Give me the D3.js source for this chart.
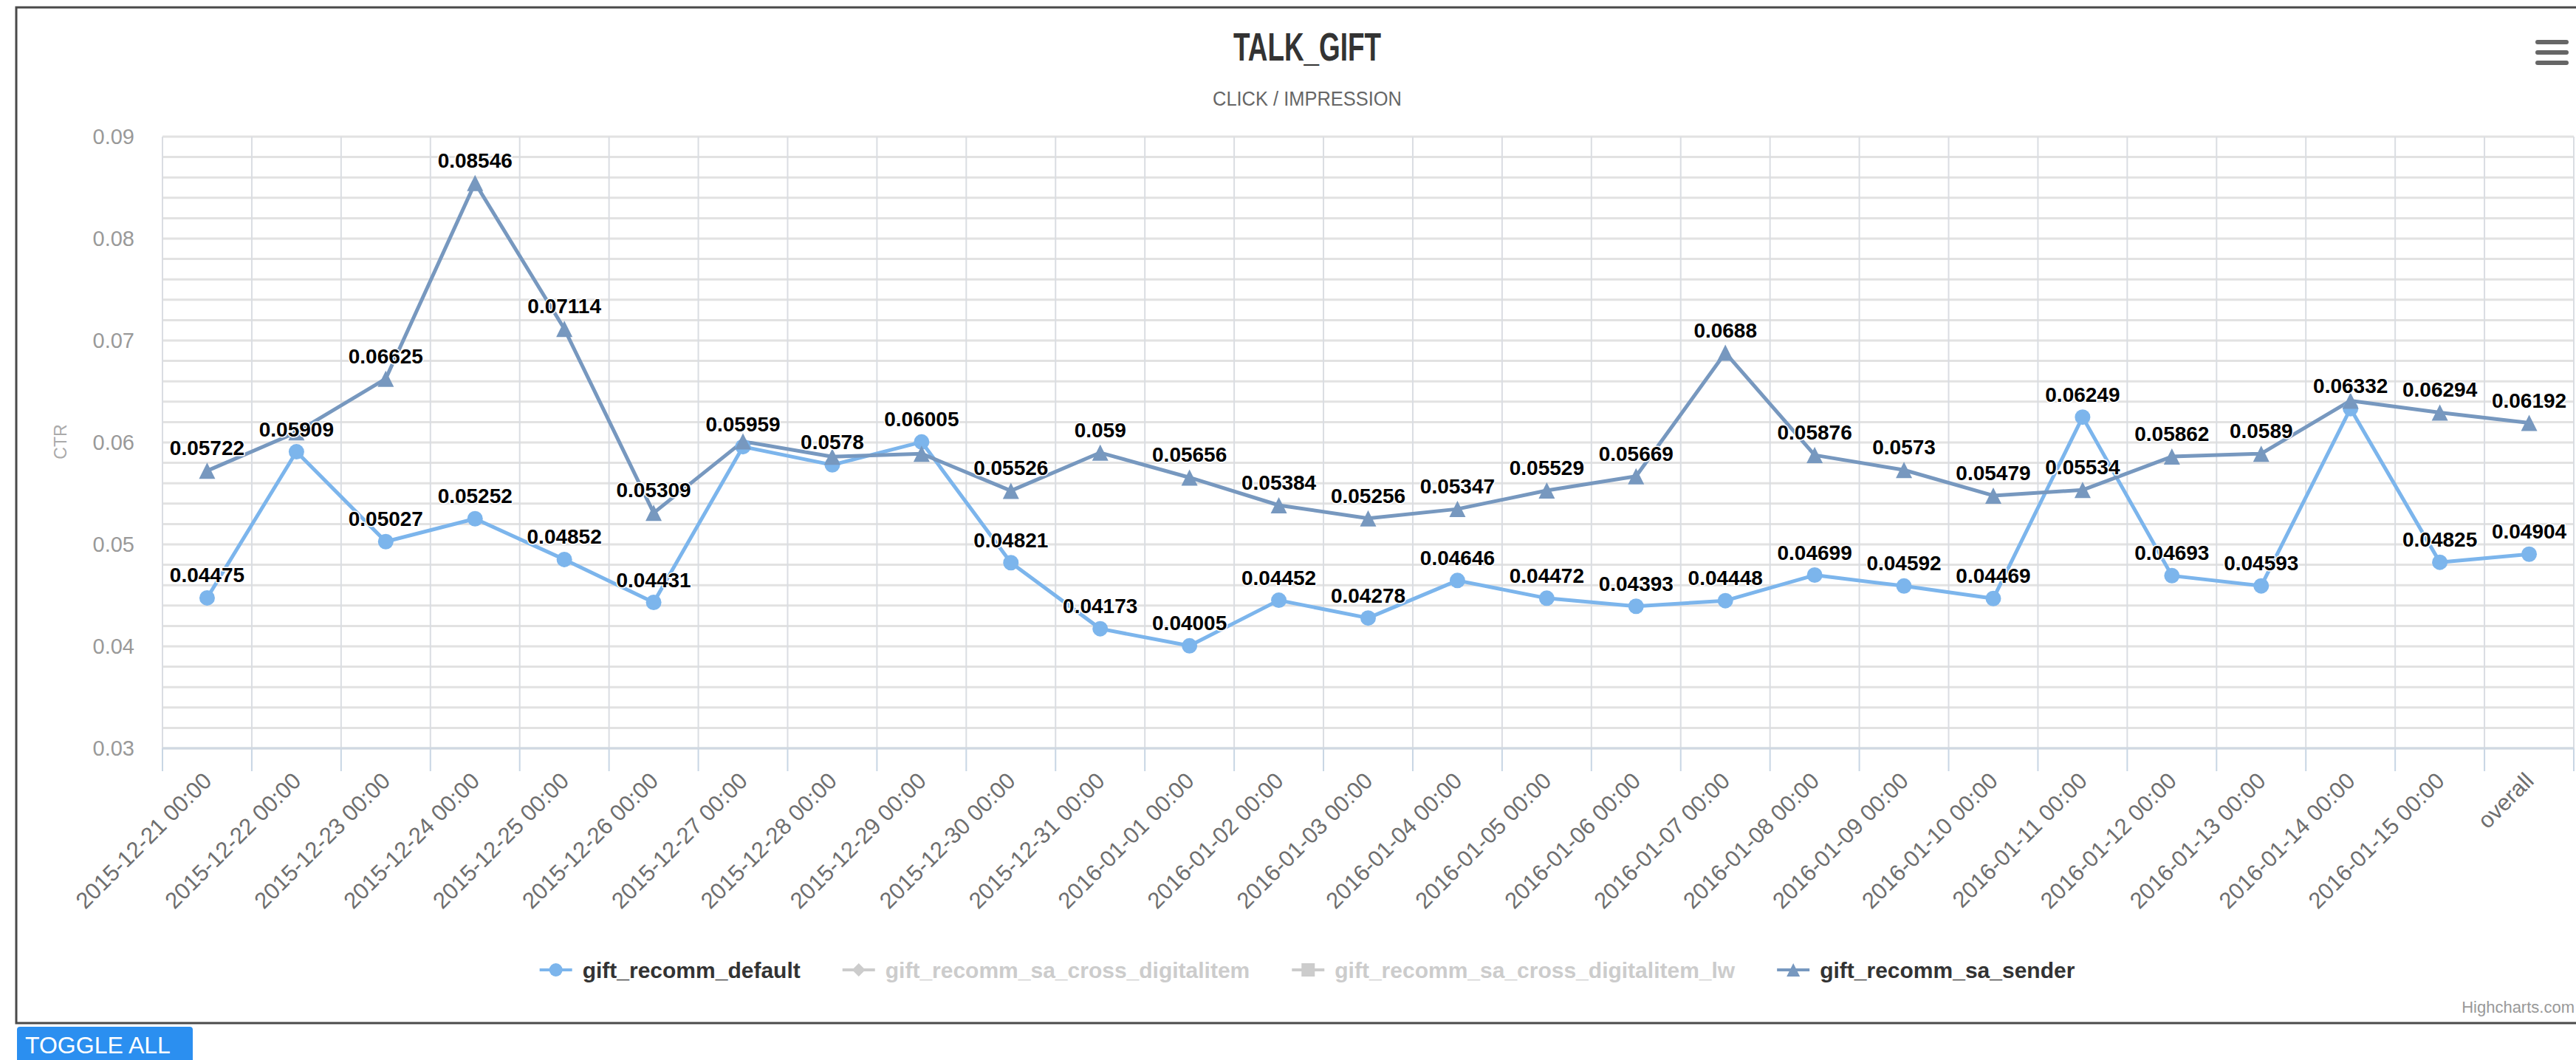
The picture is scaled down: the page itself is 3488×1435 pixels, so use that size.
<!DOCTYPE html>
<html><head><meta charset="utf-8">
<script src="https://cdn.jsdelivr.net/npm/d3@7"></script>
<style>
body{margin:0;background:#fff;}
svg{display:block;}
text{font-family:"Liberation Sans",Arial,Helvetica,sans-serif;}
</style>
</head><body>
<svg id="chart" width="3488" height="1435"></svg>
<script>
// ---------- data ----------
const categories = [
  "2015-12-21 00:00","2015-12-22 00:00","2015-12-23 00:00","2015-12-24 00:00","2015-12-25 00:00",
  "2015-12-26 00:00","2015-12-27 00:00","2015-12-28 00:00","2015-12-29 00:00","2015-12-30 00:00",
  "2015-12-31 00:00","2016-01-01 00:00","2016-01-02 00:00","2016-01-03 00:00","2016-01-04 00:00",
  "2016-01-05 00:00","2016-01-06 00:00","2016-01-07 00:00","2016-01-08 00:00","2016-01-09 00:00",
  "2016-01-10 00:00","2016-01-11 00:00","2016-01-12 00:00","2016-01-13 00:00","2016-01-14 00:00",
  "2016-01-15 00:00","overall"
];
const seriesNames = ["gift_recomm_default","gift_recomm_sa_cross_digitalitem","gift_recomm_sa_cross_digitalitem_lw","gift_recomm_sa_sender"];
const seriesVisible = [true, false, false, true];
const defaultValues = [0.04475,0.05909,0.05027,0.05252,0.04852,0.04431,0.05959,0.0578,0.06005,0.04821,
  0.04173,0.04005,0.04452,0.04278,0.04646,0.04472,0.04393,0.04448,0.04699,0.04592,
  0.04469,0.06249,0.04693,0.04593,0.06332,0.04825,0.04904];
const senderValues = [0.05722,0.061,0.06625,0.08546,0.07114,0.05309,0.0601,0.0586,0.0589,0.05526,
  0.059,0.05656,0.05384,0.05256,0.05347,0.05529,0.05669,0.0688,0.05876,0.0573,
  0.05479,0.05534,0.05862,0.0589,0.0641,0.06294,0.06192];
const yTickValues = [0.03,0.04,0.05,0.06,0.07,0.08,0.09];
const titleText = "TALK_GIFT";
const subtitleText = "CLICK / IMPRESSION";
const yAxisTitle = "CTR";

// ---------- layout ----------
const W = 3488, H = 1435;
const chartLeft = 22, chartRight = 3518, chartTop = 10, chartBottom = 1385;
const cx = (chartLeft + chartRight) / 2;
const plot = {left: 220, right: 3485, top: 185, bottom: 1013};
const colors = {def: "#7cb5ec", sender: "#7798bf", hidden: "#cccccc"};

const svg = d3.select("#chart");
svg.append("rect").attr("width", W).attr("height", H).attr("fill", "#fff");
svg.append("rect").attr("x", chartLeft).attr("y", chartTop)
  .attr("width", chartRight - chartLeft).attr("height", chartBottom - chartTop)
  .attr("fill", "#fff").attr("stroke", "#4a4a4a").attr("stroke-width", 3);

const x = d3.scaleBand().domain(categories).range([plot.left, plot.right]).padding(0);
const y = d3.scaleLinear().domain([0.03, 0.09]).range([plot.bottom, plot.top]);
const px = c => x(c) + x.bandwidth() / 2;

// horizontal grid (minor every 0.002)
const grid = svg.append("g");
grid.selectAll("line.h").data(y.ticks(30)).join("line")
  .attr("x1", plot.left).attr("x2", plot.right)
  .attr("y1", d => y(d)).attr("y2", d => y(d))
  .attr("stroke", "#e2e2e2").attr("stroke-width", 3);
// vertical grid at category boundaries + tick marks below
const bounds = categories.map(c => x(c)).concat([plot.right]);
grid.selectAll("line.v").data(bounds).join("line")
  .attr("x1", d => d).attr("x2", d => d)
  .attr("y1", plot.top).attr("y2", plot.bottom)
  .attr("stroke", "#dadde2").attr("stroke-width", 2);
grid.selectAll("line.t").data(bounds).join("line")
  .attr("x1", d => d).attr("x2", d => d)
  .attr("y1", plot.bottom).attr("y2", plot.bottom + 31)
  .attr("stroke", "#c8d6e4").attr("stroke-width", 2);
grid.append("line").attr("x1", plot.left).attr("x2", plot.right)
  .attr("y1", plot.bottom).attr("y2", plot.bottom)
  .attr("stroke", "#cfd8e2").attr("stroke-width", 3);

// y axis
const yAxis = svg.append("g").attr("transform", `translate(${plot.left - 38},0)`)
  .call(d3.axisLeft(y).tickValues(yTickValues).tickFormat(d3.format(".2f")).tickSize(0).tickPadding(0));
yAxis.select(".domain").remove();
yAxis.selectAll("text").attr("font-size", 29).attr("fill", "#999").attr("dy", "0.32em")
  .attr("font-family", '"Liberation Sans",Arial,sans-serif');
svg.append("text").attr("transform", `translate(90,598) rotate(-90)`)
  .attr("text-anchor", "middle").attr("font-size", 23).attr("fill", "#aaa").text(yAxisTitle);

// x axis
const xAxis = svg.append("g").attr("transform", `translate(0,${plot.bottom})`)
  .call(d3.axisBottom(x).tickSize(0).tickPadding(0));
xAxis.select(".domain").remove();
xAxis.selectAll("text")
  .attr("x", 0).attr("y", 0).attr("dy", 0)
  .attr("text-anchor", "end")
  .attr("transform", "translate(8,46) rotate(-45)")
  .attr("font-size", 31).attr("fill", "#6e6e6e")
  .attr("font-family", '"Liberation Sans",Arial,sans-serif');

// series
const series = [
  {name: seriesNames[0], values: defaultValues, color: colors.def, symbol: "circle"},
  {name: seriesNames[3], values: senderValues, color: colors.sender, symbol: "triangle"}
];
const line = d3.line().x((d, i) => px(categories[i])).y(d => y(d));
function markerPath(type, mx, my, rr) {
  if (type === "triangle") return `M${mx},${my - rr}L${mx + rr},${my + rr}L${mx - rr},${my + rr}Z`;
  if (type === "square") return `M${mx - rr},${my - rr}h${2 * rr}v${2 * rr}h${-2 * rr}Z`;
  if (type === "diamond") return `M${mx},${my - rr}L${mx + rr},${my}L${mx},${my + rr}L${mx - rr},${my}Z`;
  return `M${mx - rr},${my}a${rr},${rr} 0 1,0 ${2 * rr},0a${rr},${rr} 0 1,0 ${-2 * rr},0`;
}
series.forEach(s => {
  svg.append("path").attr("d", line(s.values)).attr("fill", "none")
    .attr("stroke", s.color).attr("stroke-width", 5).attr("stroke-linejoin", "round");
});
series.forEach(s => {
  svg.append("g").selectAll("path").data(s.values).join("path")
    .attr("d", (d, i) => markerPath(s.symbol, px(categories[i]), y(d), s.symbol === "triangle" ? 11 : 10.5))
    .attr("fill", s.color);
});

// data labels with overlap hiding (first series wins)
const labelG = svg.append("g");
const placed = [];
series.forEach(s => {
  s.values.forEach((v, i) => {
    const t = labelG.append("text")
      .attr("x", px(categories[i])).attr("y", y(v) - 21)
      .attr("text-anchor", "middle").attr("font-size", 28).attr("font-weight", "bold")
      .attr("fill", "#000").attr("stroke", "#fff").attr("stroke-width", 3)
      .attr("paint-order", "stroke").attr("stroke-linejoin", "round")
      .text(String(v));
    const b = t.node().getBBox();
    const box = {x1: b.x - 5, x2: b.x + b.width + 5, y1: b.y - 5, y2: b.y + b.height + 5};
    const hit = placed.some(p => !(box.x2 < p.x1 || box.x1 > p.x2 || box.y2 < p.y1 || box.y1 > p.y2));
    if (hit) t.remove(); else placed.push(box);
  });
});

// title / subtitle
svg.append("text").attr("x", cx).attr("y", 82).attr("text-anchor", "middle")
  .attr("font-size", 54).attr("font-weight", "bold").attr("fill", "#333")
  .attr("textLength", 200).attr("lengthAdjust", "spacingAndGlyphs").text(titleText);
svg.append("text").attr("x", cx).attr("y", 143).attr("text-anchor", "middle")
  .attr("font-size", 27).attr("fill", "#666")
  .attr("textLength", 256).attr("lengthAdjust", "spacingAndGlyphs").text(subtitleText);

// menu icon
svg.append("g").selectAll("line").data([0, 1, 2]).join("line")
  .attr("x1", 3436).attr("x2", 3475)
  .attr("y1", d => 57 + d * 14).attr("y2", d => 57 + d * 14)
  .attr("stroke", "#666").attr("stroke-width", 6).attr("stroke-linecap", "round");

// legend
const legendSymbols = ["circle", "diamond", "square", "triangle"];
const legendColors = [colors.def, colors.hidden, colors.hidden, colors.sender];
const legend = svg.append("g");
const items = seriesNames.map((n, i) => {
  const g = legend.append("g");
  const t = g.append("text").attr("x", 58).attr("y", 0).attr("font-size", 30).attr("font-weight", "bold")
    .attr("fill", seriesVisible[i] ? "#333" : "#cccccc").text(n);
  g.append("line").attr("x1", 0).attr("x2", 44).attr("y1", -11).attr("y2", -11)
    .attr("stroke", legendColors[i]).attr("stroke-width", 4);
  g.append("path").attr("d", markerPath(legendSymbols[i], 22, -11, 9)).attr("fill", legendColors[i]);
  return {g, w: 58 + t.node().getComputedTextLength()};
});
const itemGap = 57;
const total = d3.sum(items, d => d.w) + itemGap * (items.length - 1);
let lx = cx - total / 2;
items.forEach(it => { it.g.attr("transform", `translate(${lx},1324)`); lx += it.w + itemGap; });

// credits
svg.append("text").attr("x", 3486).attr("y", 1371).attr("text-anchor", "end")
  .attr("font-size", 22).attr("fill", "#999").text("Highcharts.com");

// toggle button
svg.append("rect").attr("x", 23).attr("y", 1390).attr("width", 238).attr("height", 50)
  .attr("rx", 4).attr("fill", "#2b8ff0");
svg.append("text").attr("x", 34).attr("y", 1426).attr("font-size", 32).attr("fill", "#fff").text("TOGGLE ALL");
</script>
</body></html>
